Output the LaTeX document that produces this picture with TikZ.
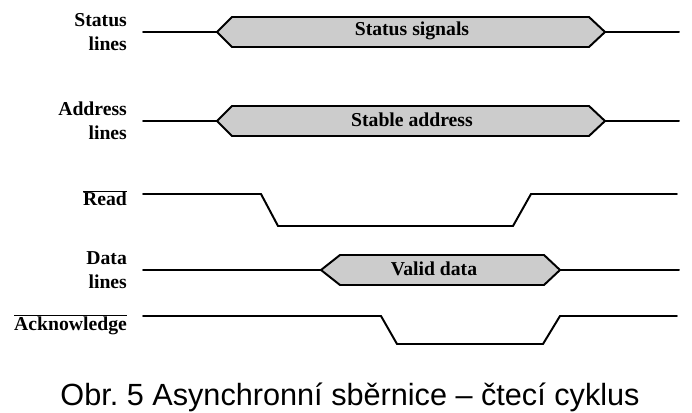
\documentclass[tikz,border=0pt]{standalone}
\usepackage{fontspec}
\usepackage{tkz-euclide}
\setmainfont{Liberation Serif}
\newfontfamily\captionfont{Liberation Sans}
\frenchspacing
\definecolor{busgray}{RGB}{204,204,204}
\tikzset{
  sig/.style={line width=2.8pt},
  lbl/.style={anchor=east,align=right,inner sep=0pt,
    font=\fontsize{28}{34}\selectfont\bfseries},
  bustext/.style={inner sep=0pt,font=\fontsize{28}{34}\selectfont\bfseries}
}

\begin{document}
\begin{tikzpicture}[scale=1]
\useasboundingbox (0,0) rectangle (34.6,-20.65);
% status lines
\tkzDefPoint(7.15,-1.6){S1}
\tkzDefPoint(10.85,-1.6){S2}
\tkzDefPoint(11.6,-0.85){S3}
\tkzDefPoint(29.45,-0.85){S4}
\tkzDefPoint(30.25,-1.6){S5}
\tkzDefPoint(29.45,-2.35){S6}
\tkzDefPoint(11.6,-2.35){S7}
\tkzDefPoint(33.95,-1.6){S8}
\tkzDrawPolygon[sig,fill=busgray](S2,S3,S4,S5,S6,S7)
\tkzDrawSegments[sig](S1,S2 S5,S8)
% address lines
\tkzDefPoint(7.15,-6.05){A1}
\tkzDefPoint(10.85,-6.05){A2}
\tkzDefPoint(11.6,-5.3){A3}
\tkzDefPoint(29.45,-5.3){A4}
\tkzDefPoint(30.25,-6.05){A5}
\tkzDefPoint(29.45,-6.8){A6}
\tkzDefPoint(11.6,-6.8){A7}
\tkzDefPoint(33.95,-6.05){A8}
\tkzDrawPolygon[sig,fill=busgray](A2,A3,A4,A5,A6,A7)
\tkzDrawSegments[sig](A1,A2 A5,A8)
% read
\tkzDefPoint(7.15,-9.7){R1}
\tkzDefPoint(13.05,-9.7){R2}
\tkzDefPoint(13.9,-11.3){R3}
\tkzDefPoint(25.65,-11.3){R4}
\tkzDefPoint(26.55,-9.7){R5}
\tkzDefPoint(33.85,-9.7){R6}
\tkzDrawPolySeg[sig](R1,R2,R3,R4,R5,R6)
% data lines
\tkzDefPoint(7.15,-13.5){D1}
\tkzDefPoint(16.05,-13.5){D2}
\tkzDefPoint(17.0,-12.75){D3}
\tkzDefPoint(27.2,-12.75){D4}
\tkzDefPoint(28.0,-13.5){D5}
\tkzDefPoint(27.2,-14.25){D6}
\tkzDefPoint(17.0,-14.25){D7}
\tkzDefPoint(33.95,-13.5){D8}
\tkzDrawPolygon[sig,fill=busgray](D2,D3,D4,D5,D6,D7)
\tkzDrawSegments[sig](D1,D2 D5,D8)
% acknowledge
\tkzDefPoint(7.15,-15.8){K1}
\tkzDefPoint(19.05,-15.8){K2}
\tkzDefPoint(19.85,-17.2){K3}
\tkzDefPoint(27.15,-17.2){K4}
\tkzDefPoint(28.0,-15.8){K5}
\tkzDefPoint(33.85,-15.8){K6}
\tkzDrawPolySeg[sig](K1,K2,K3,K4,K5,K6)
% labels
\node[lbl] (status) at (6.35,-1.6) {Status\\lines};
\node[lbl] (address) at (6.35,-6.05) {Address\\lines};
\node[lbl,anchor=base east] (read) at (6.35,-10.3) {$\overline{\mbox{Read}}$};
\node[lbl] (data) at (6.35,-13.5) {Data\\lines};
\node[lbl,anchor=base east] (ack) at (6.35,-16.5) {$\overline{\mbox{Acknowledge}}$};
\node[bustext] (statsig) at (20.6,-1.55) {Status signals};
\node[bustext] (stabaddr) at (20.6,-6.0) {Stable address};
\node[bustext] (valdata) at (21.7,-13.45) {Valid data};
\node[anchor=base,inner sep=0pt,font=\captionfont\fontsize{43.6}{50}\selectfont]
  (caption) at (17.5,-20.25) {Obr. 5 Asynchronní sběrnice – čtecí cyklus};
\end{tikzpicture}
\end{document}
